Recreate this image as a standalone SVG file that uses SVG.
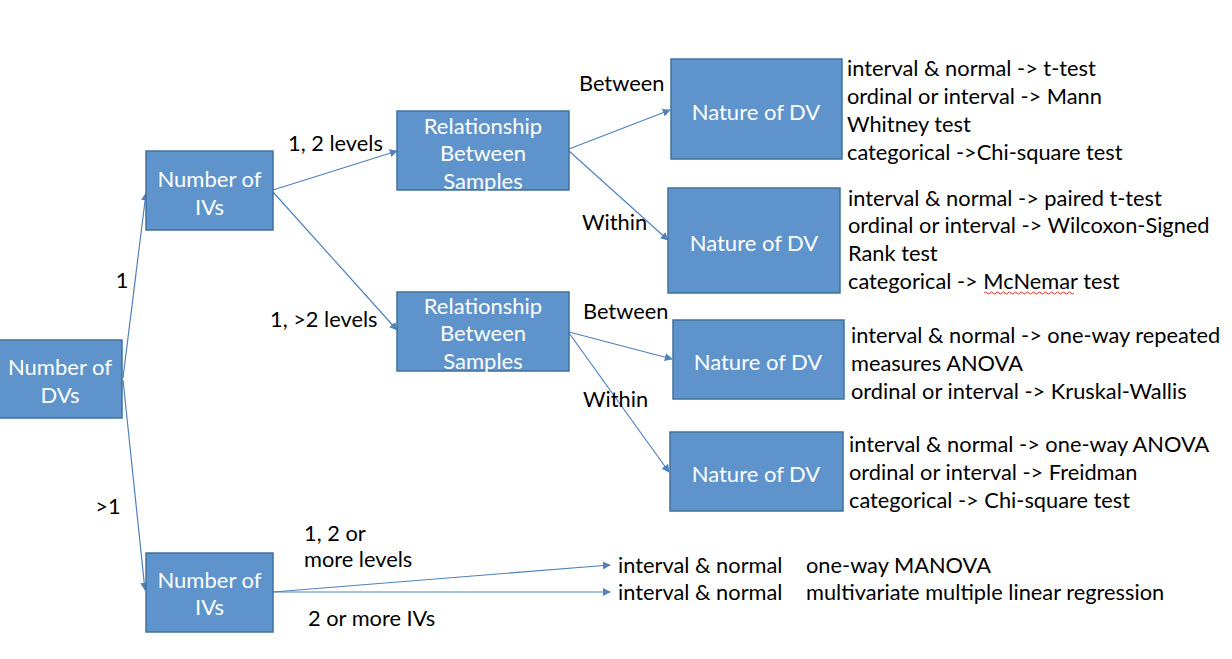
<svg xmlns="http://www.w3.org/2000/svg" width="1232" height="659" viewBox="0 0 1232 659">
<defs>
<style>
.box{fill:#5e93cb;stroke:#41719c;stroke-width:1.5}
.bt{fill:#ffffff;font-family:Lato,"Open Sans",sans-serif;font-size:22px;text-anchor:middle}
.t{fill:#000000;font-family:Lato,"Open Sans",sans-serif;font-size:21.8px}
.c{fill:none;stroke:#4f81bd;stroke-width:1.2;marker-end:url(#ah)}
</style>
<marker id="ah" viewBox="0 0 10 10" refX="9" refY="5" markerWidth="8" markerHeight="8" markerUnits="userSpaceOnUse" orient="auto">
<path d="M0,0 L10,5 L0,10 z" fill="#4f81bd"/>
</marker>
</defs>
<rect width="1232" height="659" fill="#ffffff"/>

<g id="connectors">
<path class="c" d="M123,378 L146,193"/>
<path class="c" d="M123,380 L145,590"/>
<path class="c" d="M273,190 L397,151"/>
<path class="c" d="M273,192 L397,330"/>
<path class="c" d="M569,149 L670,110"/>
<path class="c" d="M569,151 L668,240"/>
<path class="c" d="M569,332 L672,359"/>
<path class="c" d="M569,333 L669,472"/>
<path class="c" d="M273,592 L610,565"/>
<path class="c" d="M273,592 L610,592"/>
</g>

<g id="dvs">
<rect class="box" x="-2" y="340" width="124" height="78"/>
<text class="bt" x="60" y="375">Number of</text>
<text class="bt" x="60" y="403">DVs</text>
</g>

<g id="ivs1">
<rect class="box" x="146" y="151" width="127" height="79"/>
<text class="bt" x="209.5" y="187">Number of</text>
<text class="bt" x="209.5" y="215">IVs</text>
</g>

<g id="ivs2">
<rect class="box" x="146" y="553" width="127" height="79"/>
<text class="bt" x="209.5" y="588">Number of</text>
<text class="bt" x="209.5" y="615">IVs</text>
</g>

<g id="rel1">
<rect class="box" x="397" y="111" width="172" height="79"/>
<text class="bt" x="483" y="134">Relationship</text>
<text class="bt" x="483" y="161">Between</text>
<text class="bt" x="483" y="189">Samples</text>
</g>

<g id="rel2">
<rect class="box" x="397" y="292" width="172" height="79"/>
<text class="bt" x="483" y="314">Relationship</text>
<text class="bt" x="483" y="341">Between</text>
<text class="bt" x="483" y="369">Samples</text>
</g>

<g id="ndv1">
<rect class="box" x="671" y="59" width="171" height="100"/>
<text class="bt" x="756" y="120">Nature of DV</text>
</g>

<g id="ndv2">
<rect class="box" x="668" y="188" width="172" height="105"/>
<text class="bt" x="754" y="251">Nature of DV</text>
</g>

<g id="ndv3">
<rect class="box" x="673" y="320" width="171" height="79"/>
<text class="bt" x="758" y="370">Nature of DV</text>
</g>

<g id="ndv4">
<rect class="box" x="670" y="432" width="173" height="79"/>
<text class="bt" x="756" y="482">Nature of DV</text>
</g>

<g id="labels">
<text class="t" x="122" y="288" text-anchor="middle">1</text>
<text class="t" x="108" y="514" text-anchor="middle">&gt;1</text>
<text class="t" x="288" y="151">1, 2 levels</text>
<text class="t" x="270" y="327">1, &gt;2 levels</text>
<text class="t" x="579" y="91">Between</text>
<text class="t" x="582" y="230">Within</text>
<text class="t" x="583" y="319">Between</text>
<text class="t" x="583" y="407">Within</text>
<text class="t" x="304" y="541">1, 2 or</text>
<text class="t" x="304" y="567">more levels</text>
<text class="t" x="308" y="626">2 or more IVs</text>
</g>

<g id="results">
<text class="t" x="847" y="76">interval &amp; normal -&gt; t-test</text>
<text class="t" x="847" y="104">ordinal or interval -&gt; Mann</text>
<text class="t" x="847" y="132">Whitney test</text>
<text class="t" x="847" y="160">categorical -&gt;Chi-square test</text>

<text class="t" x="848" y="206">interval &amp; normal -&gt; paired t-test</text>
<text class="t" x="848" y="233">ordinal or interval -&gt; Wilcoxon-Signed</text>
<text class="t" x="848" y="261">Rank test</text>
<text class="t" x="848" y="289">categorical -&gt; McNemar test</text>
<path d="M984,293 q1.5,-2 3,0 t3,0 t3,0 t3,0 t3,0 t3,0 t3,0 t3,0 t3,0 t3,0 t3,0 t3,0 t3,0 t3,0 t3,0 t3,0 t3,0 t3,0 t3,0 t3,0 t3,0 t3,0 t3,0 t3,0 t3,0 t3,0 t3,0 t3,0 t3,0 t3,0" fill="none" stroke="#e03030" stroke-width="1"/>

<text class="t" x="851" y="343">interval &amp; normal -&gt; one-way repeated</text>
<text class="t" x="851" y="371">measures ANOVA</text>
<text class="t" x="851" y="399">ordinal or interval -&gt; Kruskal-Wallis</text>

<text class="t" x="849" y="452">interval &amp; normal -&gt; one-way ANOVA</text>
<text class="t" x="849" y="480">ordinal or interval -&gt; Freidman</text>
<text class="t" x="849" y="508">categorical -&gt; Chi-square test</text>

<text class="t" x="618" y="573">interval &amp; normal</text>
<text class="t" x="806" y="573">one-way MANOVA</text>
<text class="t" x="618" y="600">interval &amp; normal</text>
<text class="t" x="806" y="600">multivariate multiple linear regression</text>
</g>
</svg>
